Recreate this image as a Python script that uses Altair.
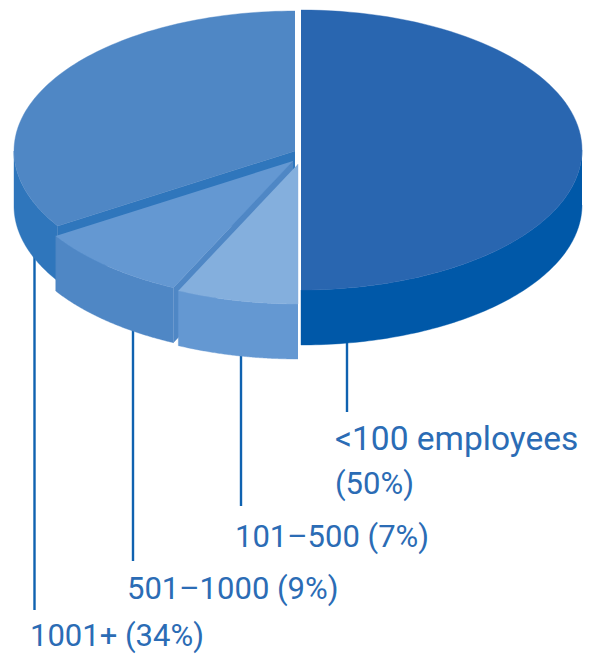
import math
import altair as alt
import pandas as pd

# --- chart values ---
categories = ["<100 employees", "101–500", "501–1000", "1001+"]
shares = [50, 7, 9, 34]
label_lines = [["<100 employees", "(50%)"], ["101–500 (7%)"], ["501–1000 (9%)"], ["1001+ (34%)"]]

# --- layout and style (page pixel space of the drawing) ---
RX, RY, DEPTH = 281, 140, 55
centers = [(301, 150), (298, 164), (293, 161), (295, 151)]
top_colors = ["#2966b0", "#84afdd", "#6498d2", "#4f87c5"]
side_colors = ["#0058a8", "#6498d2", "#4f87c5", "#2f76bc"]
leader_x = [347, 241, 133, 34.5]
leader_y = [(340, 412), (350, 506), (330, 561), (250, 610)]
label_x = [335, 235, 127, 30]
label_y = [[450, 494], [547], [599], [646]]
label_size = [[33.5, 31], [31], [31], [31]]
TEXT = "#2b6cb5"
LINE = "#0f62b0"


def point(c, deg, dy=0):
    a = math.radians(deg)
    return (c[0] + RX * math.sin(a), c[1] - RY * math.cos(a) + dy)


def arc(c, a0, a1, dy=0, n=90):
    return [point(c, a0 + (a1 - a0) * k / n, dy) for k in range(n + 1)]


def shape(points, color):
    df = pd.DataFrame({"x": [p[0] for p in points], "y": [p[1] for p in points],
                       "i": list(range(len(points)))})
    return alt.Chart(df).mark_line(fill=color, stroke=color, strokeWidth=0.4, interpolate="linear").encode(
        x=alt.X("x:Q", scale=xs, axis=None),
        y=alt.Y("y:Q", scale=ys, axis=None),
        order="i:Q",
    )


W, H = 578, 647
xs = alt.Scale(domain=[8, 8 + W], nice=False, zero=False)
ys = alt.Scale(domain=[8 + H, 8], nice=False, zero=False)

# angular extents, clockwise from the top
edges = [0]
for s in shares:
    edges.append(edges[-1] + s * 3.6)

layers = []

leaders = pd.DataFrame({"x": leader_x, "y": [v[0] for v in leader_y], "y2": [v[1] for v in leader_y]})
layers.append(alt.Chart(leaders).mark_rule(color=LINE, strokeWidth=2.4).encode(
    x=alt.X("x:Q", scale=xs, axis=None), y=alt.Y("y:Q", scale=ys, axis=None), y2="y2:Q"))

# 1001+ slice
c, a0, a1 = centers[3], edges[3], edges[4]
layers.append(shape(arc(c, a0, 270) + arc(c, 270, a0, DEPTH), side_colors[3]))
layers.append(shape([c, point(c, a0), point(c, a0, DEPTH), (c[0], c[1] + DEPTH)], side_colors[3]))
layers.append(shape([c] + arc(c, a0, a1), top_colors[3]))

# 501-1000 slice
c, a0, a1 = centers[2], edges[2], edges[3]
layers.append(shape([c, point(c, a0), point(c, a0, DEPTH), (c[0], c[1] + DEPTH)], side_colors[2]))
layers.append(shape(arc(c, a0, a1) + arc(c, a1, a0, DEPTH), side_colors[2]))
layers.append(shape([c] + arc(c, a0, a1), top_colors[2]))

# 101-500 slice
c, a0, a1 = centers[1], edges[1], edges[2]
layers.append(shape(arc(c, a0, a1) + arc(c, a1, a0, DEPTH), side_colors[1]))
layers.append(shape([c] + arc(c, a0, a1), top_colors[1]))

# <100 slice
c, a0, a1 = centers[0], edges[0], edges[1]
layers.append(shape(arc(c, 90, a1) + arc(c, a1, 90, DEPTH), side_colors[0]))
layers.append(shape(arc(c, a0, a1), top_colors[0]))

rows = []
for lines, x, ys_, sizes in zip(label_lines, label_x, label_y, label_size):
    for t, y, sz in zip(lines, ys_, sizes):
        rows.append({"t": t, "x": x, "y": y, "s": sz})
for sz in sorted({r["s"] for r in rows}):
    sub = pd.DataFrame([r for r in rows if r["s"] == sz])
    layers.append(alt.Chart(sub).mark_text(
        align="left", baseline="alphabetic", font="Roboto", fontSize=sz, color=TEXT, clip=False
    ).encode(x=alt.X("x:Q", scale=xs, axis=None), y=alt.Y("y:Q", scale=ys, axis=None), text="t:N"))

chart = alt.layer(*layers).properties(
    width=W, height=H, padding=0, autosize=alt.AutoSizeParams(type="none")
).configure_view(stroke=None)

chart.save("out.html", embed_options={"renderer": "svg", "actions": False})
